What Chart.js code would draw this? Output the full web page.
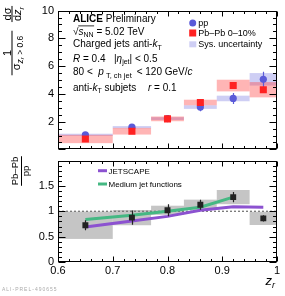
<!DOCTYPE html>
<html>
<head>
<meta charset="utf-8">
<script src="https://cdn.jsdelivr.net/npm/chart.js@4.4.1/dist/chart.umd.min.js"></script>
<style>
  html, body { margin: 0; padding: 0; background: #fff; }
  #wrap { position: relative; width: 285px; height: 296px; overflow: hidden; }
  canvas { position: absolute; left: 0; }
  #cTop { top: 0; }
  #cBot { top: 150px; }
</style>
</head>
<body>
<div id="wrap">
  <canvas id="cTop" width="285" height="160"></canvas>
  <canvas id="cBot" width="285" height="146"></canvas>
</div>
<script>
// dados
const zrCentro = [0.65, 0.735, 0.8, 0.86, 0.92, 0.975];
const zrBaixo  = [0.6, 0.7, 0.77, 0.83, 0.89, 0.95];
const zrAlto   = [0.7, 0.77, 0.83, 0.89, 0.95, 1.0];

const ppValor = [1.05, 1.6, 2.22, 3.05, 3.67, 5.05];
const ppStat  = [0.1, 0.15, 0.25, 0.3, 0.4, 0.55];
const ppSis   = [0.08, 0.08, 0.1, 0.13, 0.2, 0.45];

const pbValor = [0.75, 1.31, 2.2, 3.38, 4.6, 4.3];
const pbStat  = [0.05, 0.08, 0.1, 0.12, 0.15, 0.2];
const pbSis   = [0.3, 0.24, 0.17, 0.2, 0.42, 0.55];

const razaoValor = [0.725, 0.875, 1.02, 1.13, 1.28, 0.86];
const razaoStat  = [0.1, 0.14, 0.12, 0.1, 0.1, 0.06];
const razaoSis   = [0.27, 0.15, 0.09, 0.1, 0.14, 0.13];

const jetscapeX = [0.65, 0.735, 0.8, 0.86, 0.92, 0.975];
const jetscapeY = [0.69, 0.81, 0.9, 1.02, 1.09, 1.08];
const medioX = [0.65, 0.735, 0.8, 0.86, 0.92];
const medioY = [0.84, 0.92, 1.0, 1.08, 1.28];

const ticksX = [0.6, 0.7, 0.8, 0.9, 1.0];

const FONTE = '"Liberation Sans", Arial, sans-serif';
const AZUL = '#5a5ad8';
const VERMELHO = '#ff2222';
const ROXO = '#8c52d0';
const VERDE = '#45b883';
const CAIXA_AZUL = 'rgba(120,120,225,0.36)';
const CAIXA_VERMELHA = 'rgba(255,70,70,0.4)';

function fonte(tam, estilo) {
  return (estilo ? estilo + ' ' : '') + tam + 'px ' + FONTE;
}

// escreve pedacos de texto em sequencia: [texto, fonte, deslocamento y]
function textoRico(ctx, x, y, partes) {
  partes.forEach(p => {
    ctx.font = p[1];
    ctx.fillText(p[0], x, y + (p[2] || 0));
    x += ctx.measureText(p[0]).width;
  });
  return x;
}

function larguraRica(ctx, partes) {
  let w = 0;
  partes.forEach(p => { ctx.font = p[1]; w += ctx.measureText(p[0]).width; });
  return w;
}

// fracao vertical (titulo do eixo y girado)
function fracaoVertical(ctx, centroY, num, den, vNum, vBarra, vDen, extra) {
  ctx.save();
  ctx.rotate(-Math.PI / 2);
  const wn = larguraRica(ctx, num);
  const wd = larguraRica(ctx, den);
  const L = Math.max(wn, wd) + extra;
  const cu = -centroY;
  textoRico(ctx, cu - wn / 2, vNum, num);
  textoRico(ctx, cu - wd / 2, vDen, den);
  ctx.fillRect(cu - L / 2, vBarra - 0.5, L, 1);
  ctx.restore();
}

function desenharMoldura(chart, cfg) {
  const { ctx, chartArea: a, scales: { x, y } } = chart;
  ctx.save();
  ctx.strokeStyle = '#000';
  ctx.lineWidth = 1;
  const L = Math.round(a.left) + 0.5, R = Math.round(a.right) - 0.5;
  const T = Math.round(a.top) + 0.5, B = Math.round(a.bottom) - 0.5;
  ctx.beginPath();
  // ticks x
  const nx = Math.round((x.max - x.min) / cfg.xMenor);
  for (let i = 0; i <= nx; i++) {
    const v = x.min + i * cfg.xMenor;
    const maior = Math.abs(v / cfg.xMaior - Math.round(v / cfg.xMaior)) < 1e-6;
    const len = maior ? cfg.xLenMaior : cfg.xLenMaior / 2;
    const px = Math.round(x.getPixelForValue(v)) + 0.5;
    ctx.moveTo(px, B); ctx.lineTo(px, B - len);
    ctx.moveTo(px, T); ctx.lineTo(px, T + len);
  }
  // ticks y
  const ny = Math.round((y.max - y.min) / cfg.yMenor);
  for (let i = 0; i <= ny; i++) {
    const v = y.min + i * cfg.yMenor;
    const maior = Math.abs(v / cfg.yMaior - Math.round(v / cfg.yMaior)) < 1e-6;
    const len = maior ? cfg.yLenMaior : cfg.yLenMaior / 2;
    const py = Math.round(y.getPixelForValue(v)) + 0.5;
    ctx.moveTo(L, py); ctx.lineTo(L + len, py);
    ctx.moveTo(R, py); ctx.lineTo(R - len, py);
  }
  ctx.stroke();
  ctx.strokeRect(L, T, R - L, B - T);
  ctx.restore();
}

function desenharCaixas(chart, valores, sis, cor) {
  const { ctx, scales: { x, y } } = chart;
  ctx.save();
  ctx.fillStyle = cor;
  valores.forEach((v, i) => {
    const x0 = x.getPixelForValue(zrBaixo[i]);
    const x1 = x.getPixelForValue(zrAlto[i]);
    const y0 = y.getPixelForValue(v + sis[i]);
    const y1 = y.getPixelForValue(v - sis[i]);
    ctx.fillRect(x0, y0, x1 - x0, y1 - y0);
  });
  ctx.restore();
}

function desenharErros(chart, valores, erros, cor) {
  const { ctx, scales: { x, y } } = chart;
  ctx.save();
  ctx.strokeStyle = cor;
  ctx.lineWidth = 1.2;
  ctx.beginPath();
  valores.forEach((v, i) => {
    const px = Math.round(x.getPixelForValue(zrCentro[i])) + 0.5;
    ctx.moveTo(px, y.getPixelForValue(v + erros[i]));
    ctx.lineTo(px, y.getPixelForValue(v - erros[i]));
  });
  ctx.stroke();
  ctx.restore();
}

// grafico de cima
const pluginTopo = {
  id: 'pluginTopo',
  beforeDatasetsDraw(chart) {
    desenharCaixas(chart, ppValor, ppSis, CAIXA_AZUL);
    desenharCaixas(chart, pbValor, pbSis, CAIXA_VERMELHA);
    desenharErros(chart, ppValor, ppStat, AZUL);
    desenharErros(chart, pbValor, pbStat, VERMELHO);
  },
  afterDraw(chart) {
    const ctx = chart.ctx;
    desenharMoldura(chart, { xMenor: 0.02, xMaior: 0.1, xLenMaior: 5, yMenor: 0.5, yMaior: 2, yLenMaior: 7 });
    ctx.save();
    ctx.fillStyle = '#000';
    ctx.textBaseline = 'alphabetic';
    // textos
    textoRico(ctx, 73, 21.7, [['ALICE', fonte(10, 'bold')], [' Preliminary', fonte(10)]]);
    let x = textoRico(ctx, 73, 35, [['\u221A', fonte(10)]]);
    const xs = x;
    x = textoRico(ctx, x, 35, [['s', fonte(10, 'italic')], ['NN', fonte(7), 2]]);
    ctx.fillRect(xs - 0.3, 25.5, x - xs + 0.8, 0.8);
    textoRico(ctx, x, 35, [[' = 5.02 TeV', fonte(10)]]);
    textoRico(ctx, 73, 47, [['Charged jets', fonte(10)]]);
    textoRico(ctx, 133, 47, [['anti-', fonte(10)], ['k', fonte(10, 'italic')], ['T', fonte(7), 2.5]]);
    textoRico(ctx, 73, 61.5, [['R', fonte(10, 'italic')], [' = 0.4', fonte(10)]]);
    textoRico(ctx, 114, 61.5, [['|', fonte(10)], ['\u03B7', fonte(10, 'italic')], ['jet', fonte(7), 2.5], ['| < 0.5', fonte(10)]]);
    textoRico(ctx, 73, 75, [['80 <  ', fonte(10)], ['p', fonte(10, 'italic')], [' T, ch jet ', fonte(7.5), 2.5], [' < 120 GeV/', fonte(10)], ['c', fonte(10, 'italic')]]);
    textoRico(ctx, 73, 90.5, [['anti-', fonte(10)], ['k', fonte(10, 'italic')], ['T', fonte(7), 2.5], [' subjets', fonte(10)]]);
    textoRico(ctx, 148, 90.5, [['r', fonte(10, 'italic')], [' = 0.1', fonte(10)]]);

    // legenda
    ctx.fillStyle = AZUL;
    ctx.beginPath(); ctx.arc(192.7, 23, 3.5, 0, Math.PI * 2); ctx.fill();
    ctx.fillStyle = VERMELHO;
    ctx.fillRect(189.2, 29.5, 7, 7);
    ctx.fillStyle = CAIXA_AZUL;
    ctx.fillRect(189.3, 41.3, 7, 6);
    ctx.fillStyle = '#000';
    textoRico(ctx, 198.3, 26.2, [['pp', fonte(9)]]);
    textoRico(ctx, 198.3, 36.2, [['Pb\u2013Pb 0\u201310%', fonte(9)]]);
    textoRico(ctx, 198.3, 47.2, [['Sys. uncertainty', fonte(9)]]);

    // titulo eixo y
    fracaoVertical(ctx, 14,
      [['d', fonte(11)], ['\u03C3', fonte(11)]],
      [['d', fonte(11)], ['z', fonte(11, 'italic')], ['r', fonte(7.5, 'italic'), 2.5]],
      10.5, 12, 21, 2);
    fracaoVertical(ctx, 53,
      [['1', fonte(11)]],
      [['\u03C3', fonte(11)], ['z', fonte(8.5, 'italic'), 3], ['r', fonte(6, 'italic'), 4.5], [' > 0.6', fonte(8.5), 3]],
      10.5, 12, 19.5, 10);
    ctx.restore();
  }
};

new Chart(document.getElementById('cTop').getContext('2d'), {
  type: 'scatter',
  data: {
    datasets: [
      {
        label: 'Pb\u2013Pb 0\u201310%',
        data: zrCentro.map((z, i) => ({ x: z, y: pbValor[i] })),
        pointStyle: 'rect',
        pointRadius: 5,
        backgroundColor: VERMELHO,
        borderWidth: 0
      },
      {
        label: 'pp',
        data: zrCentro.map((z, i) => ({ x: z, y: ppValor[i] })),
        pointStyle: 'circle',
        pointRadius: 3.6,
        backgroundColor: AZUL,
        borderWidth: 0
      }
    ]
  },
  options: {
    responsive: false,
    animation: false,
    events: [],
    layout: { padding: { left: 0, right: 8, top: 9, bottom: 1 }, autoPadding: false },
    plugins: { legend: { display: false }, tooltip: { enabled: false } },
    scales: {
      x: { type: 'linear', min: 0.6, max: 1.0, display: false },
      y: {
        min: 0, max: 10,
        ticks: {
          stepSize: 2,
          color: '#000',
          padding: 4,
          font: { family: FONTE, size: 11 },
          callback: v => (v === 0 ? '' : v)
        },
        grid: { display: false, drawTicks: false },
        border: { display: false },
        afterFit: s => { s.width = 58; }
      }
    }
  },
  plugins: [pluginTopo]
});

// grafico de baixo (razao)
const pluginRazao = {
  id: 'pluginRazao',
  beforeDatasetsDraw(chart) {
    desenharCaixas(chart, razaoValor, razaoSis, 'rgba(140,140,140,0.5)');
  },
  afterDatasetsDraw(chart) {
    desenharErros(chart, razaoValor, razaoStat, '#222');
  },
  afterDraw(chart) {
    const ctx = chart.ctx;
    desenharMoldura(chart, { xMenor: 0.02, xMaior: 0.1, xLenMaior: 5, yMenor: 0.1, yMaior: 0.5, yLenMaior: 7 });
    ctx.save();
    ctx.fillStyle = '#000';
    // legenda
    ctx.lineWidth = 3;
    ctx.strokeStyle = ROXO;
    ctx.beginPath(); ctx.moveTo(98, 20.7); ctx.lineTo(107, 20.7); ctx.stroke();
    ctx.strokeStyle = VERDE;
    ctx.beginPath(); ctx.moveTo(98, 34); ctx.lineTo(107, 34); ctx.stroke();
    textoRico(ctx, 108.5, 23.6, [['JETSCAPE', fonte(8)]]);
    textoRico(ctx, 108.5, 37, [['Medium jet functions', fonte(8)]]);

    // titulo eixo y
    fracaoVertical(ctx, 21,
      [['Pb\u2013Pb', fonte(9.5)]],
      [['pp', fonte(9.5)]],
      17.5, 21.5, 28.5, 1);

    // titulo eixo x
    textoRico(ctx, 265.5, 135, [['z', fonte(13, 'italic')], ['r', fonte(9, 'italic'), 3]]);

    // rotulo
    ctx.fillStyle = '#aaa';
    ctx.letterSpacing = '1px';
    textoRico(ctx, 2, 141, [['ALI-PREL-490655', fonte(5)]]);
    ctx.restore();
  }
};

new Chart(document.getElementById('cBot').getContext('2d'), {
  type: 'scatter',
  data: {
    datasets: [
      {
        label: 'Pb\u2013Pb / pp',
        data: zrCentro.map((z, i) => ({ x: z, y: razaoValor[i] })),
        pointStyle: 'rect',
        pointRadius: 4.2,
        backgroundColor: '#222',
        borderWidth: 0
      },
      {
        label: 'Medium jet functions',
        type: 'line',
        data: medioX.map((z, i) => ({ x: z, y: medioY[i] })),
        borderColor: VERDE,
        borderWidth: 3,
        pointRadius: 0,
        tension: 0
      },
      {
        label: 'JETSCAPE',
        type: 'line',
        data: jetscapeX.map((z, i) => ({ x: z, y: jetscapeY[i] })),
        borderColor: ROXO,
        borderWidth: 3,
        pointRadius: 0,
        tension: 0
      },
      {
        label: 'unidade',
        type: 'line',
        data: [{ x: ticksX[0], y: 1 }, { x: ticksX[ticksX.length - 1], y: 1 }],
        borderColor: '#777',
        borderWidth: 1.3,
        borderDash: [2, 2],
        pointRadius: 0
      }
    ]
  },
  options: {
    responsive: false,
    animation: false,
    events: [],
    layout: { padding: { left: 0, right: 8, top: 9, bottom: 0 }, autoPadding: false },
    plugins: { legend: { display: false }, tooltip: { enabled: false } },
    scales: {
      x: {
        type: 'linear', min: ticksX[0], max: ticksX[ticksX.length - 1],
        afterBuildTicks: s => { s.ticks = ticksX.map(v => ({ value: v })); },
        ticks: {
          color: '#000',
          padding: 2,
          maxRotation: 0,
          font: { family: FONTE, size: 11 },
          callback: v => String(Number(v.toFixed(2)))
        },
        grid: { display: false, drawTicks: false },
        border: { display: false },
        afterFit: s => { s.height = 34; }
      },
      y: {
        min: 0, max: 2,
        ticks: {
          stepSize: 0.5,
          color: '#000',
          padding: 4,
          font: { family: FONTE, size: 11 },
          callback: v => (v === 2 ? '' : String(v))
        },
        grid: { display: false, drawTicks: false },
        border: { display: false },
        afterFit: s => { s.width = 58; }
      }
    }
  },
  plugins: [pluginRazao]
});
</script>
</body>
</html>
